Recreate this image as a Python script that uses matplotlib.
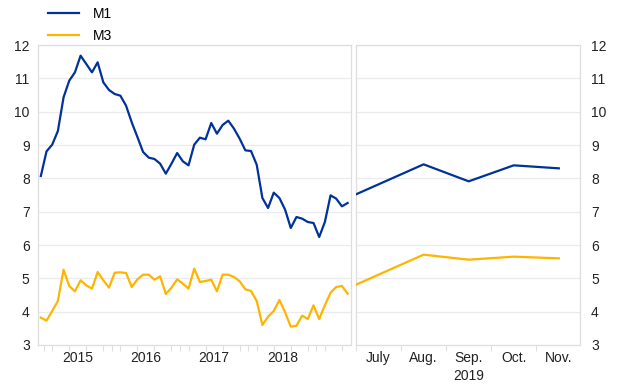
import matplotlib
matplotlib.use("Agg")
import matplotlib.pyplot as plt
import numpy as np

plt.rcParams['font.family'] = ['Liberation Sans', 'DejaVu Sans']

# Left panel: monthly data Dec 2014 .. Jun 2019 (index 0 = Dec 2014)
m1_hist = [8.07, 8.81, 9.01, 9.42, 10.43, 10.93, 11.18, 11.68, 11.43, 11.18,
           11.48, 10.88, 10.65, 10.53, 10.48, 10.18, 9.68, 9.24, 8.79, 8.62,
           8.58, 8.44, 8.14, 8.44, 8.76, 8.51, 8.39, 9.01, 9.22, 9.17,
           9.66, 9.34, 9.60, 9.73, 9.49, 9.19, 8.84, 8.82, 8.41, 7.41,
           7.11, 7.57, 7.41, 7.06, 6.51, 6.84, 6.79, 6.69, 6.66, 6.24,
           6.69, 7.49, 7.39, 7.16, 7.26]
m3_hist = [3.82, 3.73, 4.02, 4.32, 5.26, 4.77, 4.61, 4.94, 4.79, 4.69,
           5.19, 4.94, 4.72, 5.17, 5.18, 5.16, 4.74, 4.97, 5.11, 5.11,
           4.96, 5.06, 4.53, 4.72, 4.97, 4.84, 4.69, 5.29, 4.89, 4.92,
           4.96, 4.61, 5.11, 5.11, 5.04, 4.91, 4.67, 4.62, 4.32, 3.60,
           3.85, 4.02, 4.35, 3.98, 3.55, 3.58, 3.88, 3.78, 4.19, 3.78,
           4.19, 4.57, 4.74, 4.77, 4.54]
years = ["2015", "2016", "2017", "2018"]

# Right panel: 2019 (month offsets: -0.5 = end of June, 0 = July ... 4 = Nov.)
recent_pos = [-0.5, 1, 2, 3, 4]
m1_recent = [7.52, 8.42, 7.91, 8.39, 8.30]
m3_recent = [4.81, 5.71, 5.56, 5.65, 5.60]
recent_labels = ["July", "Aug.", "Sep.\n2019", "Oct.", "Nov."]

BLUE = "#003299"
YELLOW = "#ffb400"
GRID = "#ebebeb"
FRAME = "#dedede"
FS = 10

W, H = 620, 387
fig = plt.figure(figsize=(W / 100, H / 100), dpi=100)

def box(x0, x1, y0, y1):
    return [x0 / W, 1 - y1 / H, (x1 - x0) / W, (y1 - y0) / H]

ax1 = fig.add_axes(box(38, 351, 45, 345))
ax2 = fig.add_axes(box(356, 580, 45, 345))

n = len(m1_hist)
x_hist = np.arange(n)
l1, = ax1.plot(x_hist, m1_hist, color=BLUE, lw=1.6, label="M1", zorder=3)
l2, = ax1.plot(x_hist, m3_hist, color=YELLOW, lw=1.6, label="M3", zorder=3)
ax2.plot(recent_pos, m1_recent, color=BLUE, lw=1.6, zorder=3)
ax2.plot(recent_pos, m3_recent, color=YELLOW, lw=1.6, zorder=3)

for ax in (ax1, ax2):
    ax.set_ylim(3, 12)
    ax.set_yticks(np.arange(3, 13, 1))
    ax.grid(axis='y', color=GRID, lw=0.9)
    ax.set_axisbelow(True)
    for s in ax.spines.values():
        s.set_color(FRAME)
        s.set_linewidth(0.9)
    ax.tick_params(axis='both', labelsize=FS, colors='#222222', length=0)
    ax.tick_params(axis='x', which='minor', length=4, color=FRAME, width=0.8)

ax1.set_xlim(-0.5, n - 1 + 0.6)
ax1.set_xticks([1 + 5.5 + 12 * k for k in range(len(years))])
ax1.set_xticklabels(years)
minor = []
for k in range(5):
    for off in (0.5, 2, 5, 8, 11):
        v = off + 12 * k
        if v <= n:
            minor.append(v)
ax1.set_xticks(minor, minor=True)
ax1.tick_params(axis='y', pad=6)
ax1.tick_params(axis='x', pad=4)

ax2.set_xlim(-0.5, 4.47)
ax2.set_xticks(range(len(recent_labels)))
ax2.set_xticklabels(recent_labels)
for lab in ax2.get_xticklabels():
    lab.set_linespacing(1.4)
ax2.set_xticks([-0.5, 0.5, 1.5, 2.5, 3.5], minor=True)
ax2.yaxis.tick_right()
ax2.tick_params(axis='y', pad=8, labelright=True, labelleft=False)
ax2.tick_params(axis='x', pad=4)

fig.legend(handles=[l1, l2], loc='upper left', bbox_to_anchor=(48 / W, 1 - 7 / H),
           frameon=False, fontsize=FS, handlelength=2.2, handletextpad=1.0,
           labelspacing=0.55, borderpad=0, borderaxespad=0)

fig.savefig("out.png", dpi=100)
